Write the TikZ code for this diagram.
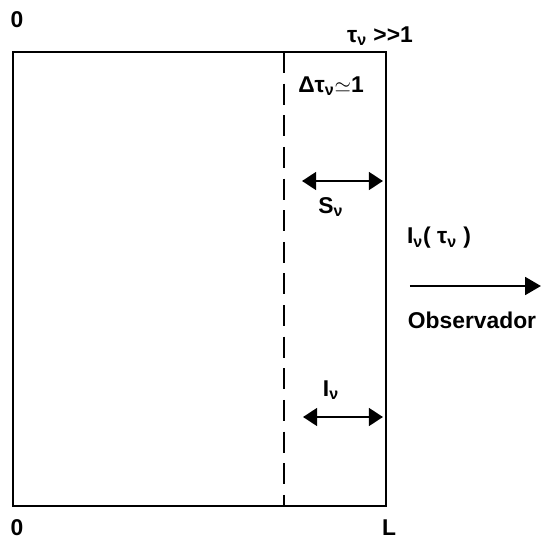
\documentclass[tikz,border=0pt]{standalone}
\usepackage{fontspec}
\setmainfont{Liberation Sans}
\usetikzlibrary{arrows.meta,positioning}

\begin{document}
\begin{tikzpicture}[
  x=0.02cm, y=-0.02cm,
  every node/.style={font=\fontsize{13}{15}\selectfont\bfseries, inner sep=1pt},
  frame/.style={line width=1.4pt},
  flux/.style={line width=1.6pt, {Triangle[length=8pt,width=10pt]}-{Triangle[length=8pt,width=10pt]}},
  >={Triangle[length=9pt,width=10pt]}
]
\useasboundingbox (0,0) rectangle (549,545);
% caja del medio
\coordinate (tl) at (13,52);
\coordinate (br) at (386,506);
\coordinate (dtop) at (284,52);
\coordinate (dbot) at (284,506);
\draw[frame] (tl) rectangle (br);
\draw[frame, dash pattern=on 12pt off 6pt] (dtop) -- (dbot);
% etiquetas de bordes
\node (zt) at (17,20) {0};
\node (zb) at (17,528) {0};
\node (ll) at (389,528) {L};
\node (tau) at (380,36) {τ\textsubscript{ν} {>}{>}1};
\node (dtau) at (331,86) {Δτ\textsubscript{ν}$\simeq$1};
% fuente y intensidad
\coordinate (s1) at (302,181);
\coordinate (s2) at (383,181);
\draw[flux] (s1) -- (s2);
\node (sn) at (331,207) {S\textsubscript{ν}};
\coordinate (i1) at (303,417);
\coordinate (i2) at (383,417);
\draw[flux] (i1) -- (i2);
\node (in) at (331,390) {I\textsubscript{ν}};
% observador
\node (itau) at (439,238) {I\textsubscript{ν}( τ\textsubscript{ν} )};
\coordinate (o1) at (410,286);
\coordinate (o2) at (541,286);
\draw[->, line width=1.6pt] (o1) -- (o2);
\node (obs) at (472,320) {Observador};
\end{tikzpicture}
\end{document}
